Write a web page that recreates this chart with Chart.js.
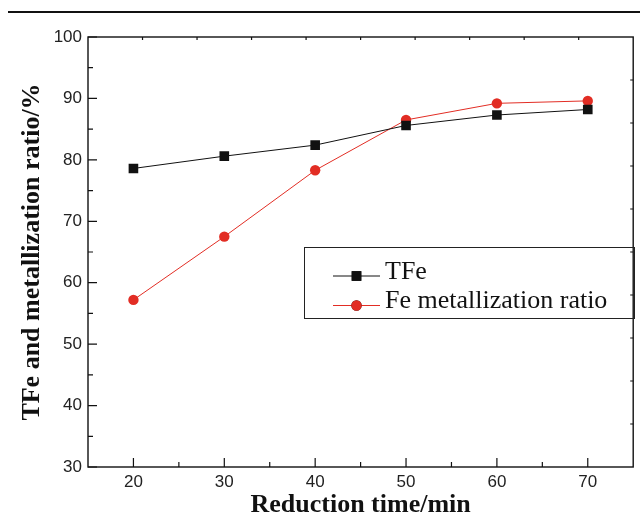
<!DOCTYPE html>
<html>
<head>
<meta charset="utf-8">
<script src="https://cdn.jsdelivr.net/npm/chart.js@4.4.0/dist/chart.umd.min.js"></script>
<style>
  body { margin: 0; background: #fff; }
  #wrap { position: relative; width: 640px; height: 518px; }
  #rule { position: absolute; left: 8px; top: 11px; width: 632px; height: 2px; background: #111; }
</style>
</head>
<body>
<div id="wrap">
  <div id="rule"></div>
  <canvas id="chart" width="640" height="518"></canvas>
</div>
<script>
const times = [20, 30, 40, 50, 60, 70];
const tfe = [78.6, 80.6, 82.4, 85.6, 87.3, 88.2];
const metallization = [57.2, 67.5, 78.3, 86.5, 89.2, 89.6];
const xTicks = [20, 30, 40, 50, 60, 70];
const yTicks = [30, 40, 50, 60, 70, 80, 90, 100];

const RED = 'rgb(226, 45, 36)';

// closed frame with inward ticks on all four sides
const framePlugin = {
  id: 'frame',
  afterDraw(chart) {
    const { ctx, chartArea: a, scales: { x, y } } = chart;
    const mids = arr => arr.slice(1).map((v, i) => (v + arr[i]) / 2);
    ctx.save();
    ctx.strokeStyle = '#111';
    ctx.lineWidth = 1.4;
    ctx.strokeRect(a.left, a.top, a.right - a.left, a.bottom - a.top);
    ctx.lineWidth = 1.2;
    ctx.beginPath();
    xTicks.forEach(v => {
      const p = x.getPixelForValue(v);
      ctx.moveTo(p, a.bottom); ctx.lineTo(p, a.bottom - 9);
    });
    mids(xTicks).forEach(v => {
      const p = x.getPixelForValue(v);
      ctx.moveTo(p, a.bottom); ctx.lineTo(p, a.bottom - 5);
    });
    yTicks.forEach(v => {
      const p = y.getPixelForValue(v);
      ctx.moveTo(a.left, p); ctx.lineTo(a.left + 9, p);
    });
    mids(yTicks).forEach(v => {
      const p = y.getPixelForValue(v);
      ctx.moveTo(a.left, p); ctx.lineTo(a.left + 5, p);
    });
    // top and right edges carry ten short, evenly spaced ticks
    for (let i = 1; i < 10; i++) {
      const px = a.left + (a.right - a.left) * i / 10;
      ctx.moveTo(px, a.top); ctx.lineTo(px, a.top + 3);
      const py = a.top + (a.bottom - a.top) * i / 10;
      ctx.moveTo(a.right, py); ctx.lineTo(a.right - 3, py);
    }
    ctx.stroke();
    ctx.restore();
  }
};

// boxed legend inside the plot, lower right
const boxLegend = {
  id: 'boxLegend',
  afterDraw(chart, args, opts) {
    const { ctx } = chart;
    ctx.save();
    ctx.strokeStyle = '#222';
    ctx.lineWidth = 1;
    ctx.strokeRect(opts.left + 0.5, opts.top + 0.5, opts.width, opts.height);
    chart.data.datasets.forEach((ds, i) => {
      const cy = opts.top + opts.rowStart + i * opts.rowGap;
      const x0 = opts.left + 29, x1 = opts.left + 76;
      ctx.strokeStyle = ds.borderColor;
      ctx.lineWidth = 1;
      ctx.beginPath();
      ctx.moveTo(x0, cy); ctx.lineTo(x1, cy);
      ctx.stroke();
      Chart.helpers.drawPoint(ctx, {
        pointStyle: ds.pointStyle,
        radius: ds.pointRadius,
        borderWidth: 0
      }, (x0 + x1) / 2, cy);
      ctx.fillStyle = ds.pointBackgroundColor;
      ctx.fill();
      ctx.fillStyle = '#111';
      ctx.font = '26px "Liberation Serif"';
      ctx.textBaseline = 'middle';
      ctx.textAlign = 'left';
      ctx.fillText(ds.label, x1 + 5, cy - 4);
    });
    ctx.restore();
  }
};

new Chart(document.getElementById('chart'), {
  type: 'line',
  data: {
    datasets: [
      {
        label: 'TFe',
        data: times.map((t, i) => ({ x: t, y: tfe[i] })),
        borderColor: '#111',
        borderWidth: 1,
        pointStyle: 'rect',
        pointRadius: 6.8,
        pointBackgroundColor: '#111',
        pointBorderWidth: 0
      },
      {
        label: 'Fe metallization ratio',
        data: times.map((t, i) => ({ x: t, y: metallization[i] })),
        borderColor: RED,
        borderWidth: 1,
        pointStyle: 'circle',
        pointRadius: 5.2,
        pointBackgroundColor: RED,
        pointBorderWidth: 0
      }
    ]
  },
  options: {
    responsive: false,
    animation: false,
    layout: { padding: { top: 37, right: 2, left: 0, bottom: 0 } },
    plugins: {
      legend: { display: false },
      tooltip: { enabled: false },
      boxLegend: { left: 304, top: 247, width: 330, height: 71, rowStart: 29, rowGap: 29.5 }
    },
    scales: {
      x: {
        type: 'linear',
        min: 15,
        max: 75,
        afterBuildTicks: s => { s.ticks = xTicks.map(v => ({ value: v })); },
        afterFit: s => { s.height = 51; s.paddingLeft = 0; s.paddingRight = 0; },
        grid: { display: false, drawTicks: false },
        border: { display: false },
        ticks: { padding: 5, color: '#222', font: { family: 'Liberation Sans', size: 17 } },
        title: {
          display: true,
          text: 'Reduction time/min',
          color: '#111',
          font: { family: 'Liberation Serif', size: 26, weight: 'bold', lineHeight: 1 },
          padding: { top: 1, bottom: 0 }
        }
      },
      y: {
        min: 30,
        max: 100,
        afterBuildTicks: s => { s.ticks = yTicks.map(v => ({ value: v })); },
        afterFit: s => { s.width = 88; },
        grid: { display: false, drawTicks: false },
        border: { display: false },
        ticks: { padding: 6, color: '#222', font: { family: 'Liberation Sans', size: 17 } },
        title: {
          display: true,
          text: 'TFe and metallization ratio/%',
          color: '#111',
          font: { family: 'Liberation Serif', size: 26, weight: 'bold', lineHeight: 1 },
          padding: { top: 19, bottom: 0 }
        }
      }
    }
  },
  plugins: [framePlugin, boxLegend]
});
</script>
</body>
</html>
